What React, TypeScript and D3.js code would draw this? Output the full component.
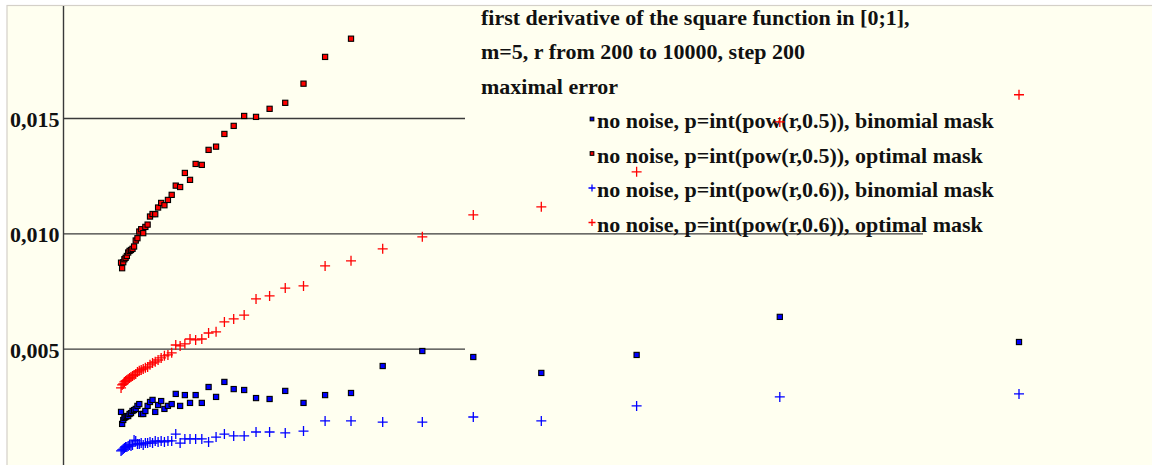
import React from "react";
import * as d3 from "d3";

// r values: 200 to 10000, step 200
const rValues = [
  200, 400, 600, 800, 1000, 1200, 1400, 1600, 1800, 2000,
  2200, 2400, 2600, 2800, 3000, 3200, 3400, 3600, 3800, 4000,
  4200, 4400, 4600, 4800, 5000, 5200, 5400, 5600, 5800, 6000,
  6200, 6400, 6600, 6800, 7000, 7200, 7400, 7600, 7800, 8000,
  8200, 8400, 8600, 8800, 9000, 9200, 9400, 9600, 9800, 10000,
];

// no noise, p=int(pow(r,0.5)), binomial mask (blue squares)
const errBinomial05 = [
  0.00228, 0.00176, 0.00193, 0.00202, 0.00206, 0.0021, 0.0021, 0.00219, 0.00223, 0.00232,
  0.00236, 0.00241, 0.00254, 0.00262, 0.00219, 0.00219, 0.00232, 0.00254, 0.00271, 0.0028,
  0.00228, 0.00258, 0.00275, 0.00241, 0.00254, 0.00262, 0.00306, 0.00254, 0.00301, 0.00267,
  0.00301, 0.00267, 0.00336, 0.00293, 0.00358, 0.00327, 0.00323, 0.00288, 0.00284, 0.00319,
  0.00267, 0.00301, 0.0031, 0.00427, 0.00492, 0.00466, 0.00397, 0.00475, 0.0064, 0.00531,
];

// no noise, p=int(pow(r,0.5)), optimal mask (red squares) – r = 200 .. 8600
const errOptimal05 = [
  0.00875, 0.00851, 0.00877, 0.0089, 0.00896, 0.00904, 0.00919, 0.00926, 0.0093, 0.00935,
  0.00945, 0.00971, 0.00981, 0.0101, 0.0102, 0.01003, 0.0103, 0.0104, 0.01075, 0.01086,
  0.01085, 0.01114, 0.01134, 0.01124, 0.01147, 0.01169, 0.01209, 0.01203, 0.01264, 0.01234,
  0.01303, 0.01299, 0.01364, 0.01378, 0.01433, 0.01468, 0.01511, 0.01507, 0.01542, 0.01568,
  0.01651, 0.01767, 0.01846,
];

// no noise, p=int(pow(r,0.6)), binomial mask (blue plus)
const errBinomial06 = [
  0.00059, 0.00063, 0.00067, 0.00072, 0.00076, 0.00076, 0.0008, 0.00085, 0.0008, 0.00085,
  0.00106, 0.00102, 0.00089, 0.00089, 0.00093, 0.00085, 0.00093, 0.00093, 0.00098, 0.00093,
  0.00102, 0.00098, 0.00102, 0.00098, 0.00102, 0.00102, 0.00132, 0.00093, 0.00111, 0.00111,
  0.00111, 0.00111, 0.00098, 0.00119, 0.00132, 0.00124, 0.00124, 0.00141, 0.00141, 0.00137,
  0.00145, 0.00189, 0.00189, 0.00184, 0.00184, 0.00206, 0.00189, 0.00254, 0.00293, 0.00306,
];

// no noise, p=int(pow(r,0.6)), optimal mask (red plus)
const errOptimal06 = [
  0.00332, 0.00345, 0.00349, 0.00358, 0.00362, 0.00366, 0.00371, 0.00375, 0.00379, 0.00384,
  0.00388, 0.00392, 0.00401, 0.00406, 0.0041, 0.00414, 0.00419, 0.00423, 0.00432, 0.0044,
  0.00445, 0.00453, 0.00462, 0.00471, 0.00475, 0.00484, 0.00518, 0.00514, 0.00523, 0.00544,
  0.0054, 0.00544, 0.0057, 0.00575, 0.00618, 0.00631, 0.00648, 0.00718, 0.00731, 0.00765,
  0.00774, 0.00861, 0.00883, 0.00935, 0.00987, 0.01082, 0.01117, 0.01269, 0.01485, 0.01603,
];

const yTicks = [0.005, 0.01, 0.015];
const yTickLabels = ["0,005", "0,010", "0,015"];

const titleLines = [
  "first derivative of the square function in [0;1],",
  "m=5, r from 200 to 10000, step 200",
  "maximal error",
];

const seriesLabels = [
  "no noise, p=int(pow(r,0.5)), binomial mask",
  "no noise, p=int(pow(r,0.5)), optimal mask",
  "no noise, p=int(pow(r,0.6)), binomial mask",
  "no noise, p=int(pow(r,0.6)), optimal mask",
];

const FONT = "'Liberation Serif', 'Times New Roman', serif";

export default function App() {
  const W = 1152;
  const H = 465;
  const y = d3.scaleLinear().domain([0, 0.015]).range([464.5, 118.5]);
  // x axis is reciprocal in r
  const C = 10596.5;
  const xs = d3.scaleLinear().domain([0, 1 / 596.5]).range([66.4, 1019]);
  const px = (r: number) => xs(1 / (C - r));

  const series = [
    { data: errBinomial05, color: "#0000ff", shape: "square" },
    { data: errOptimal05, color: "#ff0000", shape: "square" },
    { data: errBinomial06, color: "#0000ff", shape: "plus" },
    { data: errOptimal06, color: "#ff0000", shape: "plus" },
  ];

  const axisX = 63.5;
  const gridEnds = [465, 923, 465];
  const fs = 22;

  const marker = (shape: string, color: string, cx: number, cy: number, key: string, s = 1) =>
    shape === "square" ? (
      <rect
        key={key}
        x={cx - 2.6 * s}
        y={cy - 2.6 * s}
        width={5.2 * s}
        height={5.2 * s}
        fill={color}
        stroke="#000"
        strokeWidth={1.1}
      />
    ) : (
      <path
        key={key}
        d={`M${cx - 5 * s},${cy}H${cx + 5 * s}M${cx},${cy - 5 * s}V${cy + 5 * s}`}
        stroke={color}
        strokeWidth={1.3}
        fill="none"
      />
    );

  return (
    <svg
      width={W}
      height={H}
      style={{ position: "absolute", left: 0, top: 0, display: "block" }}
    >
      <rect x={0} y={0} width={W} height={H} fill="#ffffff" />
      <rect x={7} y={5.5} width={W} height={H} fill="#fffff0" stroke="#d4d0c8" strokeWidth={1.2} />

      {yTicks.map((t, i) => (
        <g key={"g" + i}>
          <line x1={axisX} x2={gridEnds[i]} y1={y(t)} y2={y(t)} stroke="#3a3a3a" strokeWidth={1.4} />
          <text
            x={59.5}
            y={y(t) + 8.5}
            textAnchor="end"
            fontFamily={FONT}
            fontWeight="bold"
            fontSize={fs}
            fill="#111"
          >
            {yTickLabels[i]}
          </text>
        </g>
      ))}
      <line x1={axisX} x2={axisX} y1={6} y2={H} stroke="#3a3a3a" strokeWidth={1.4} />

      {titleLines.map((t, i) => (
        <text
          key={"t" + i}
          x={481}
          y={24.5 + i * 34.5}
          fontFamily={FONT}
          fontWeight="bold"
          fontSize={fs}
          fill="#111"
        >
          {t}
        </text>
      ))}
      {seriesLabels.map((t, i) => (
        <g key={"l" + i}>
          {marker(series[i].shape, series[i].color, 592, 128 + i * 34.5 - 9, "lm" + i, 0.7)}
          <text
            x={597}
            y={128 + i * 34.5}
            fontFamily={FONT}
            fontWeight="bold"
            fontSize={fs}
            fill="#111"
          >
            {t}
          </text>
        </g>
      ))}

      {series.map((s, si) => (
        <g key={"s" + si}>
          {s.data.map((v, i) => marker(s.shape, s.color, px(rValues[i]), y(v), `p${si}-${i}`))}
        </g>
      ))}
    </svg>
  );
}
